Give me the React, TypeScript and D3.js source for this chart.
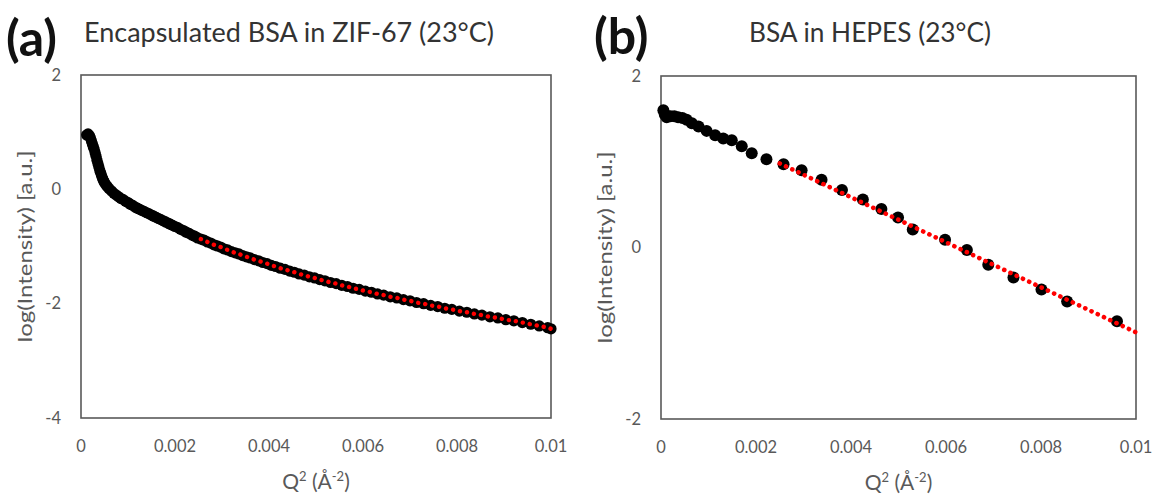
import React from "react";
import * as d3 from "d3";

// ---------- data ----------
const aQ2 = [
  0.00012, 0.00015, 0.00018, 0.0002, 0.00022, 0.00024, 0.00026, 0.00028, 0.0003, 0.00032,
  0.00034, 0.00036, 0.00038, 0.0004, 0.00042, 0.00044, 0.00046, 0.00048, 0.0005, 0.00053,
  0.00056, 0.0006, 0.00065, 0.0007, 0.00075, 0.0008, 0.00085, 0.0009, 0.00095, 0.001,
  0.00105, 0.0011, 0.00115, 0.0012, 0.00125, 0.0013, 0.00135, 0.0014, 0.00145, 0.0015,
  0.00155, 0.0016, 0.00165, 0.0017, 0.00175, 0.0018, 0.00185, 0.0019, 0.00195, 0.002,
  0.00206, 0.00212, 0.00218, 0.00224, 0.0023, 0.00236, 0.00242, 0.00248, 0.00255, 0.00262,
  0.00269, 0.00276, 0.00283, 0.0029, 0.00297, 0.00304, 0.00312, 0.0032, 0.00328, 0.00336,
  0.00344, 0.00352, 0.0036, 0.00369, 0.00378, 0.00387, 0.00396, 0.00405, 0.00414, 0.00424,
  0.00434, 0.00444, 0.00454, 0.00464, 0.00475, 0.00486, 0.00497, 0.00508, 0.00519, 0.00531,
  0.00543, 0.00555, 0.00567, 0.00579, 0.00592, 0.00605, 0.00618, 0.00631, 0.00644, 0.00658,
  0.00672, 0.00686, 0.007, 0.00714, 0.00729, 0.00744, 0.00759, 0.00774, 0.00789, 0.00805,
  0.00821, 0.00837, 0.00853, 0.0087, 0.00887, 0.00904, 0.00921, 0.00939, 0.00957, 0.00975,
  0.00993, 0.01,
];
const aLogI = [
  0.95, 0.97, 0.94, 0.9, 0.85, 0.8, 0.75, 0.7, 0.64, 0.58,
  0.51, 0.45, 0.39, 0.33, 0.28, 0.23, 0.19, 0.15, 0.12, 0.08,
  0.05, 0.01, -0.03, -0.07, -0.1, -0.13, -0.16, -0.18, -0.21, -0.23,
  -0.26, -0.28, -0.31, -0.33, -0.35, -0.37, -0.39, -0.41, -0.43, -0.45,
  -0.47, -0.49, -0.51, -0.53, -0.55, -0.57, -0.59, -0.61, -0.63, -0.65,
  -0.67, -0.7, -0.72, -0.75, -0.77, -0.8, -0.82, -0.85, -0.87, -0.89,
  -0.92, -0.94, -0.97, -0.99, -1.01, -1.04, -1.06, -1.09, -1.11, -1.13,
  -1.16, -1.18, -1.2, -1.23, -1.25, -1.28, -1.3, -1.33, -1.35, -1.38,
  -1.4, -1.43, -1.45, -1.48, -1.5, -1.53, -1.55, -1.58, -1.6, -1.63,
  -1.65, -1.68, -1.7, -1.73, -1.75, -1.78, -1.8, -1.83, -1.85, -1.88,
  -1.9, -1.93, -1.95, -1.98, -2.0, -2.03, -2.05, -2.08, -2.1, -2.13,
  -2.15, -2.18, -2.2, -2.23, -2.25, -2.28, -2.3, -2.33, -2.36, -2.39,
  -2.42, -2.44,
];
const aFitFrom = 0.0025;

const bQ2 = [
  0.00005, 0.00008, 0.00012, 0.0002, 0.00028, 0.00036, 0.00045, 0.00054, 0.00065, 0.00079,
  0.00096, 0.00114, 0.00131, 0.00149, 0.0017, 0.00191, 0.00222, 0.00258, 0.00296, 0.00338,
  0.00381, 0.00425, 0.00464, 0.00499, 0.0053, 0.00598, 0.00644, 0.00689, 0.00742, 0.00801,
  0.00855, 0.0096,
];
const bLogI = [
  1.6, 1.55, 1.52, 1.53, 1.53, 1.52, 1.51, 1.49, 1.45, 1.41,
  1.36, 1.31, 1.27, 1.25, 1.18, 1.1, 1.03, 0.97, 0.9, 0.79,
  0.67, 0.56, 0.45, 0.35, 0.21, 0.09, -0.03, -0.2, -0.35, -0.49,
  -0.63, -0.86,
];
const bFitQ2 = [0.0025, 0.01];
const bFitLogI = [0.98, -0.99];

const xTicks = [0, 0.002, 0.004, 0.006, 0.008, 0.01];
const xTickLabels = ["0", "0.002", "0.004", "0.006", "0.008", "0.01"];
const aYTicks = [-4, -2, 0, 2];
const bYTicks = [-2, 0, 2];
const titles = ["Encapsulated BSA in ZIF-67 (23°C)", "BSA in HEPES (23°C)"];
const panelTags = ["(a)", "(b)"];

const FONT = "Lato, 'Open Sans', sans-serif";
const AXIS_COL = "#595959";

function Panel(p: {
  left: number; right: number; top: number; bottom: number;
  yDomain: [number, number]; yTicks: number[];
  q: number[]; v: number[]; r: number;
  renderFit: (x: d3.ScaleLinear<number, number>, y: d3.ScaleLinear<number, number>) => React.ReactNode;
}) {
  const x = d3.scaleLinear().domain([0, 0.01]).range([p.left, p.right]);
  const y = d3.scaleLinear().domain(p.yDomain).range([p.bottom, p.top]);
  return (
    <g>
      <rect x={p.left} y={p.top} width={p.right - p.left} height={p.bottom - p.top}
        fill="none" stroke={AXIS_COL} strokeWidth={1.6} />
      {p.q.map((qq, i) => (
        <circle key={i} cx={x(qq)} cy={y(p.v[i])} r={p.r} fill="#000" />
      ))}
      {p.renderFit(x, y)}
      {p.yTicks.map((t) => (
        <text key={t} x={p.left - 20} y={y(t)} dy="0.35em" textAnchor="end"
          fontFamily={FONT} fontSize={16.5} fill={AXIS_COL}>{t}</text>
      ))}
      {xTicks.map((t, i) => (
        <text key={t} x={x(t)} y={p.bottom + 28} dy="0.35em" textAnchor="middle"
          fontFamily={FONT} fontSize={16.5} fill={AXIS_COL}>{xTickLabels[i]}</text>
      ))}
      <text x={(p.left + p.right) / 2} y={p.bottom + 71} textAnchor="middle"
        fontFamily={FONT} fontSize={21} fill={AXIS_COL}>
        Q<tspan dy={-8} fontSize={13}>2</tspan><tspan dy={8}> (Å</tspan>
        <tspan dy={-8} fontSize={13}>-2</tspan><tspan dy={8}>)</tspan>
      </text>
      <text transform={`translate(${p.left - 56},${(p.top + p.bottom) / 2}) rotate(-90)`}
        textAnchor="middle" dy="0.35em" fontFamily={FONT} fontSize={19} fill={AXIS_COL}
        textLength={192} lengthAdjust="spacingAndGlyphs">
        log(Intensity) [a.u.]
      </text>
    </g>
  );
}

export default function App() {
  const fitLine = d3.line<[number, number]>();
  return (
    <svg width={1157} height={497} style={{ position: "absolute", left: 0, top: 0, background: "#fff" }}>
      <rect width={1157} height={497} fill="#fff" />
      {/* Panel a */}
      <Panel left={81} right={551} top={75} bottom={418} yDomain={[-4, 2]} yTicks={aYTicks}
        q={aQ2} v={aLogI} r={5.6}
        renderFit={(x, y) => {
          const pts: [number, number][] = aQ2
            .map((qq, i) => [qq, aLogI[i]] as [number, number])
            .filter((d) => d[0] >= aFitFrom)
            .map((d) => [x(d[0]), y(d[1])]);
          const path = d3.line().curve(d3.curveMonotoneX)(pts) || "";
          return <path d={path} fill="none" stroke="#ff0000" strokeWidth={4.4}
            strokeDasharray="0.1 7" strokeLinecap="round" />;
        }} />
      {/* Panel b */}
      <Panel left={661} right={1136} top={76} bottom={419} yDomain={[-2, 2]} yTicks={bYTicks}
        q={bQ2} v={bLogI} r={6}
        renderFit={(x, y) => {
          const pts: [number, number][] = bFitQ2.map((qq, i) => [x(qq), y(bFitLogI[i])]);
          return <path d={fitLine(pts) || ""} fill="none" stroke="#ff0000" strokeWidth={4.6}
            strokeDasharray="0.1 6.8" strokeLinecap="round" />;
        }} />
      {/* tags & titles */}
      <text x={6} y={56} fontFamily={FONT} fontWeight="bold" fontSize={50} fill="#111">{panelTags[0]}</text>
      <text x={84} y={42} fontFamily={FONT} fontSize={26} fill="#333"
        textLength={410} lengthAdjust="spacingAndGlyphs">{titles[0]}</text>
      <text x={594} y={54} fontFamily={FONT} fontWeight="bold" fontSize={50} fill="#111">{panelTags[1]}</text>
      <text x={749} y={42} fontFamily={FONT} fontSize={26} fill="#333"
        textLength={242} lengthAdjust="spacingAndGlyphs">{titles[1]}</text>
    </svg>
  );
}
